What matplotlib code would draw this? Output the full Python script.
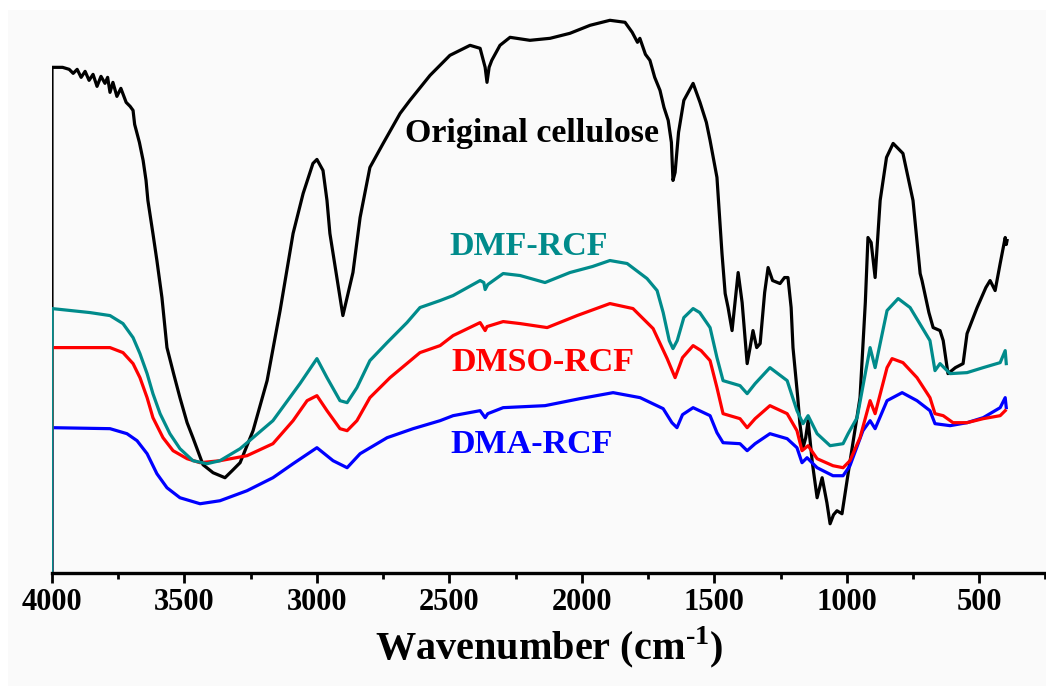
import numpy as np
import matplotlib
matplotlib.use("Agg")
import matplotlib.pyplot as plt
from matplotlib.patches import Rectangle
from matplotlib.ticker import MultipleLocator

plt.rcParams['font.family'] = ['Liberation Serif', 'DejaVu Serif']
plt.rcParams['font.weight'] = 'bold'
plt.rcParams['mathtext.fontset'] = 'custom'
plt.rcParams['mathtext.rm'] = 'Liberation Serif:bold'
plt.rcParams['mathtext.bf'] = 'Liberation Serif:bold'

# FTIR spectra, transmittance in arbitrary units (offset curves)
# each spectrum starts from the baseline at 4000 cm-1, like the original plot
wn_cell = [4000, 4000, 3960, 3935, 3920, 3905, 3890, 3875, 3860, 3845, 3830, 3815, 3800,
           3790, 3781, 3770, 3755, 3740, 3720, 3705, 3694, 3688, 3679, 3670, 3656, 3645,
           3638, 3619, 3604, 3585, 3566, 3540, 3517, 3490, 3468, 3430, 3392, 3347, 3320,
           3290, 3241, 3188, 3139, 3090, 3052, 3015, 3000, 2977, 2962, 2951, 2939, 2913,
           2902, 2886, 2864, 2837, 2800, 2750, 2686, 2649, 2573, 2498, 2422, 2384, 2365,
           2358, 2350, 2340, 2309, 2271, 2196, 2120, 2045, 1969, 1894, 1837, 1810, 1790,
           1781, 1760, 1743, 1725, 1705, 1690, 1674, 1662, 1656, 1648, 1635, 1615, 1580,
           1554, 1530, 1516, 1490, 1471, 1459, 1448, 1433, 1420, 1410, 1395, 1376, 1365,
           1354, 1340, 1327, 1310, 1297, 1280, 1252, 1235, 1222, 1210, 1203, 1185, 1177,
           1165, 1155, 1146, 1130, 1112, 1093, 1075, 1063, 1050, 1037, 1018, 995, 950,
           930, 920, 908, 893, 874, 850, 825, 788, 750, 723, 716, 690, 674, 648, 636, 618,
           590, 561, 546, 508, 475, 459, 440, 421, 402, 398, 395]
t_cell = [0, 505, 505, 503, 499, 503, 495, 501, 492, 498, 486, 496, 489,
          495, 480, 490, 476, 484, 470, 466, 462, 448, 439, 430, 412, 392,
          372, 339, 312, 275, 225, 198, 175, 150, 135, 108, 100, 95, 102,
          110, 142, 192, 262, 339, 379, 409, 413, 402, 372, 339, 319, 275,
          257, 275, 300, 355, 405, 429, 459, 472, 497, 517, 527, 524, 505,
          490, 505, 512, 527, 535, 532, 534, 539, 547, 552, 550, 540, 530,
          534, 518, 512, 495, 482, 465, 452, 430, 392, 400, 440, 472, 489,
          470, 450, 432, 395, 319, 279, 265, 242, 275, 300, 270, 209, 225,
          242, 225, 229, 280, 305, 292, 289, 295, 295, 265, 225, 175, 149,
          125, 135, 152, 110, 75, 95, 70, 49, 58, 62, 59, 99, 175,
          270, 335, 330, 295, 372, 415, 429, 419, 372, 299, 292, 260, 245, 242, 232, 199,
          205, 209, 239, 265, 285, 292, 282, 309, 335, 328, 332]

wn_dmf = [4000, 4000, 3857, 3781, 3732, 3694, 3668, 3641, 3619, 3592, 3555, 3517, 3468,
          3415, 3366, 3290, 3166, 3064, 3000, 2962, 2913, 2886, 2849, 2800, 2735, 2660,
          2611, 2535, 2486, 2384, 2370, 2365, 2355, 2297, 2233, 2139, 2045, 1960, 1894,
          1829, 1754, 1716, 1693, 1670, 1656, 1640, 1615, 1580, 1555, 1516, 1490, 1467,
          1403, 1376, 1346, 1290, 1225, 1188, 1165, 1146, 1112, 1063, 1014, 995, 961,
          912, 893, 848, 806, 761, 686, 667, 648, 610, 546, 485, 421, 402, 398]
t_dmf = [0, 264, 260, 257, 249, 235, 219, 199, 179, 159, 139, 124, 112,
         109, 112, 124, 152, 189, 214, 195, 172, 170, 185, 212, 230, 250,
         265, 272, 277, 292, 290, 283, 288, 299, 297, 290, 300, 306, 312,
         309, 294, 282, 260, 232, 224, 232, 255, 264, 260, 245, 215, 192,
         187, 179, 189, 205, 192, 162, 149, 157, 139, 127, 129, 139, 155,
         225, 205, 262, 274, 265, 232, 202, 209, 199, 200, 205, 210, 222, 209]

wn_dmso = [4000, 4000, 3781, 3732, 3694, 3668, 3641, 3619, 3581, 3543, 3490, 3441, 3366,
           3264, 3166, 3090, 3037, 3000, 2962, 2913, 2886, 2849, 2800, 2724, 2611, 2535,
           2486, 2384, 2365, 2358, 2297, 2233, 2131, 2018, 1894, 1807, 1731, 1678, 1648,
           1620, 1580, 1550, 1516, 1490, 1467, 1403, 1376, 1346, 1290, 1225, 1188, 1169,
           1146, 1112, 1052, 1014, 988, 950, 912, 893, 848, 829, 788, 735, 686, 667, 636,
           599, 546, 485, 421, 402]
t_dmso = [0, 225, 225, 220, 209, 195, 175, 155, 135, 122, 114, 110, 112,
          117, 129, 152, 172, 177, 162, 144, 142, 152, 175, 195, 220, 227,
          237, 250, 242, 246, 251, 249, 245, 257, 269, 264, 244, 214, 195,
          215, 227, 222, 212, 185, 159, 154, 145, 154, 167, 159, 142, 122,
          127, 114, 107, 105, 112, 135, 172, 159, 205, 214, 210, 195, 175, 159, 157,
          150, 150, 154, 157, 162]

wn_dma = [4000, 4000, 3781, 3717, 3679, 3641, 3604, 3566, 3517, 3441, 3366, 3264, 3166,
          3090, 3000, 2939, 2886, 2837, 2735, 2637, 2535, 2486, 2384, 2365, 2355, 2297,
          2139, 2007, 1882, 1780, 1693, 1660, 1641, 1620, 1580, 1516, 1490, 1467, 1403,
          1376, 1346, 1290, 1225, 1188, 1169, 1150, 1112, 1052, 1014, 988, 939, 912, 893,
          848, 791, 735, 686, 667, 610, 546, 485, 421, 402, 398]
t_dma = [0, 145, 144, 139, 132, 119, 99, 85, 75, 69, 72, 82, 95,
         109, 125, 112, 105, 119, 135, 144, 152, 157, 162, 155, 159, 165,
         167, 174, 180, 175, 164, 150, 145, 158, 165, 157, 140, 130, 129,
         122, 129, 139, 134, 125, 110, 115, 105, 97, 97, 107, 142, 152, 144,
         172, 180, 172, 162, 149, 147, 150, 155, 165, 175, 165]

series = [
    (wn_cell, t_cell, 'black', 'Original cellulose', 2188, 439),
    (wn_dma, t_dma, '#0000ff', 'DMA-RCF', 2188, 128),
    (wn_dmso, t_dmso, '#ff0000', 'DMSO-RCF', 2146, 210),
    (wn_dmf, t_dmf, '#008b8b', 'DMF-RCF', 2199, 326),
]

fig = plt.figure(figsize=(10.46, 6.86), dpi=100, facecolor='white')
# light grey canvas with a thin white margin at top and left
fig.patches.append(Rectangle((8 / 1046, 0), 1, 1 - 10 / 686, transform=fig.transFigure,
                             facecolor='#fafafa', edgecolor='none', zorder=-10))
ax = fig.add_axes([0.0497, 0.165, 0.9503, 0.82])
ax.set_facecolor('none')

for wn, t, color, label, lx, ly in series:
    ax.plot(wn, t, color=color, lw=2.3, solid_joinstyle='round')
    ax.text(lx, ly, label, color=color, fontsize=24.5, fontweight='bold',
            ha='center', va='center')

ax.set_xlim(4000, 248)
ax.set_ylim(0, 562)
ax.set_yticks([])
for side in ['left', 'top', 'right']:
    ax.spines[side].set_visible(False)
ax.spines['bottom'].set_linewidth(2.4)

ax.xaxis.set_major_locator(MultipleLocator(500))
ax.xaxis.set_minor_locator(MultipleLocator(250))
ax.tick_params(axis='x', which='major', direction='out', length=7, width=2,
               labelsize=22, pad=4)
ax.tick_params(axis='x', which='minor', direction='out', length=4, width=2)
for lab in ax.get_xticklabels():
    lab.set_fontweight('bold')

ax.set_xlabel('Wavenumber (cm$^{\\mathbf{\u2010}\\mathbf{1}}$)', fontsize=29,
              fontweight='bold', labelpad=5)

fig.savefig('out.png', dpi=100, facecolor=fig.get_facecolor())
